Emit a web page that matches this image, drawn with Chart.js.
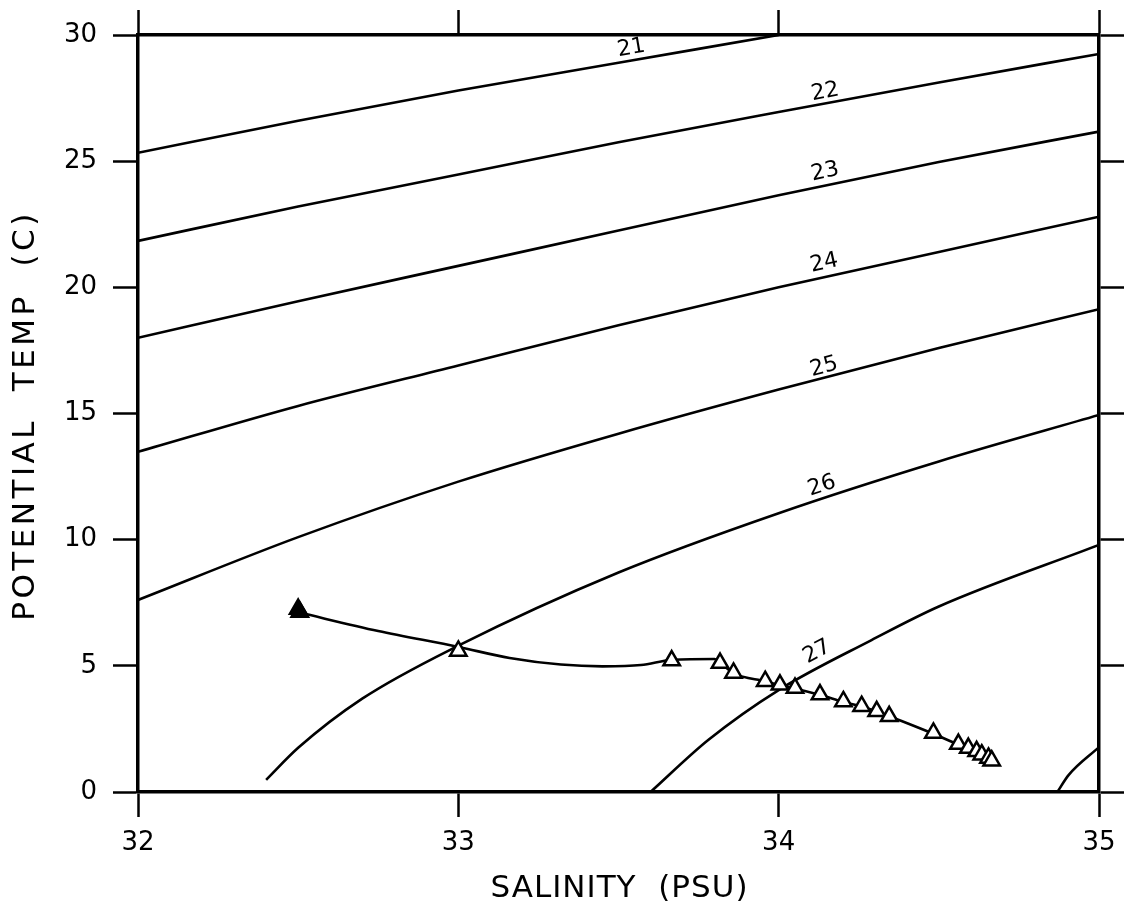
<!DOCTYPE html>
<html><head><meta charset="utf-8">
<script src="https://cdn.jsdelivr.net/npm/chart.js@4.4.1/dist/chart.umd.min.js"></script>
<style>html,body{margin:0;padding:0;background:#fff}#wrap{width:1128px;height:911px;position:relative}</style>
</head><body><div id="wrap"><canvas id="c"></canvas></div>
<script>
// ---- tick values / labels ----
const xTickValues = [32, 33, 34, 35];
const xTickLabels = ['32', '33', '34', '35'];
const yTickValues = [0, 5, 10, 15, 20, 25, 30];
const yTickLabels = ['0', '5', '10', '15', '20', '25', '30'];
const xTitle = 'SALINITY  (PSU)';
const yTitle = 'POTENTIAL  TEMP  (C)';

// ---- sigma-theta contours (salinity, potential temperature) ----
const sigma21S = [32.0, 32.5, 33.0, 33.5, 34.0];
const sigma21T = [25.33, 26.6, 27.8, 28.9, 30.0];
const sigma22S = [32.0, 32.5, 33.0, 33.5, 34.0, 34.5, 35.0];
const sigma22T = [21.84, 23.2, 24.47, 25.75, 26.95, 28.12, 29.25];
const sigma23S = [32.0, 32.5, 33.0, 33.5, 34.0, 34.5, 35.0];
const sigma23T = [18.0, 19.45, 20.85, 22.25, 23.65, 24.97, 26.17];
const sigma24S = [32.0, 32.5, 33.0, 33.5, 34.0, 34.5, 35.0];
const sigma24T = [13.48, 15.3, 16.9, 18.5, 20.0, 21.4, 22.8];
const sigma25S = [32.0, 32.5, 33.0, 33.5, 34.0, 34.5, 35.0];
const sigma25T = [7.61, 10.1, 12.3, 14.2, 15.95, 17.6, 19.13];
const sigma26S = [32.40, 32.50, 32.70, 33.0, 33.5, 34.0, 34.5, 35.0];
const sigma26T = [0.48, 1.75, 3.7, 5.8, 8.7, 11.05, 13.1, 14.94];
const sigma27S = [33.60, 33.78, 34.0, 34.29, 34.5, 35.0];
const sigma27T = [0.0, 2.06, 4.04, 6.02, 7.35, 9.79];
const sigma28S = [34.87, 34.905, 35.0];
const sigma28T = [0.0, 0.67, 1.78];

const contourLevels = ['21', '22', '23', '24', '25', '26', '27', '28'];
const contourS = [sigma21S, sigma22S, sigma23S, sigma24S, sigma25S, sigma26S, sigma27S, sigma28S];
const contourT = [sigma21T, sigma22T, sigma23T, sigma24T, sigma25T, sigma26T, sigma27T, sigma28T];

// contour label anchors (only 21..27 are labelled)
const labelText = ['21', '22', '23', '24', '25', '26', '27'];
const labelS = [33.54, 34.145, 34.145, 34.142, 34.142, 34.135, 34.12];
const labelT = [29.48, 27.74, 24.57, 20.96, 16.84, 12.13, 5.55];

// ---- station profile ----
const profileLineS = [32.50, 32.75, 33.00, 33.16, 33.32, 33.45, 33.57, 33.67, 33.80, 33.82, 33.86, 33.96, 34.00, 34.05, 34.13, 34.20, 34.26, 34.31, 34.35, 34.48, 34.56, 34.59, 34.62, 34.635, 34.655, 34.665];
const profileLineT = [7.12, 6.38, 5.75, 5.31, 5.05, 4.98, 5.03, 5.24, 5.27, 5.10, 4.70, 4.38, 4.24, 4.10, 3.84, 3.58, 3.38, 3.18, 2.98, 2.32, 1.88, 1.72, 1.58, 1.46, 1.32, 1.21];
const sampleS = [33.00, 33.666, 33.817, 33.859, 33.958, 34.004, 34.051, 34.129, 34.202, 34.259, 34.306, 34.345, 34.483, 34.561, 34.592, 34.618, 34.634, 34.655, 34.665];
const sampleT = [5.59, 5.21, 5.11, 4.72, 4.39, 4.25, 4.12, 3.86, 3.59, 3.40, 3.20, 3.00, 2.34, 1.90, 1.74, 1.61, 1.48, 1.35, 1.24];
const surfaceS = [32.50, 32.505];
const surfaceT = [7.25, 7.13];

const pts = (S, T) => S.map((s, i) => ({x: s, y: T[i]}));

const datasets = [];
datasets.push({label: 'surface', data: pts(surfaceS, surfaceT), showLine: false,
  pointStyle: 'triangle', pointRadius: 9.5, pointBorderWidth: 2.5,
  pointBackgroundColor: '#000', pointBorderColor: '#000', order: 0});
datasets.push({label: 'samples', data: pts(sampleS, sampleT), showLine: false,
  pointStyle: 'triangle', pointRadius: 9.5, pointBorderWidth: 2.5,
  pointBackgroundColor: '#fff', pointBorderColor: '#000', order: 0});
datasets.push({label: 'profile', data: pts(profileLineS, profileLineT), showLine: true,
  borderColor: '#000', borderWidth: 2.6, pointRadius: 0, cubicInterpolationMode: 'monotone', order: 1});
contourLevels.forEach((lvl, i) => {
  datasets.push({label: 'sigma ' + lvl, data: pts(contourS[i], contourT[i]), showLine: true,
    borderColor: '#000', borderWidth: 2.6, pointRadius: 0, cubicInterpolationMode: 'monotone', order: 2});
});

const contourLabelPlugin = {
  id: 'contourLabels',
  afterDatasetsDraw(chart) {
    const {ctx, scales: {x, y}} = chart;
    ctx.save();
    ctx.font = '22px "DejaVu Sans"';
    ctx.fillStyle = '#000';
    ctx.textAlign = 'center';
    ctx.textBaseline = 'middle';
    labelText.forEach((txt, i) => {
      const S = contourS[i], T = contourT[i];
      let k = 0;
      while (k < S.length - 2 && S[k + 1] < labelS[i]) k++;
      const dx = x.getPixelForValue(S[k + 1]) - x.getPixelForValue(S[k]);
      const dy = y.getPixelForValue(T[k + 1]) - y.getPixelForValue(T[k]);
      const ang = Math.atan2(dy, dx);
      ctx.save();
      ctx.translate(x.getPixelForValue(labelS[i]), y.getPixelForValue(labelT[i]));
      ctx.rotate(ang);
      ctx.fillText(txt, 0, 0);
      ctx.restore();
    });
    ctx.restore();
  }
};

// axis titles drawn with letter spacing to match the wide plotter font
const axisTitlePlugin = {
  id: 'axisTitles',
  afterDraw(chart) {
    const {ctx, chartArea: a} = chart;
    ctx.save();
    ctx.fillStyle = '#000';
    ctx.textAlign = 'center';
    ctx.textBaseline = 'middle';
    ctx.font = '31px "DejaVu Sans"';
    ctx.letterSpacing = '1px';
    ctx.fillText(xTitle, (a.left + a.right) / 2 + 1, 889);
    ctx.letterSpacing = '3.5px';
    ctx.translate(26, (a.top + a.bottom) / 2 + 2);
    ctx.rotate(-Math.PI / 2);
    ctx.fillText(yTitle, 0, 0);
    ctx.restore();
  }
};

const tickFont = {family: '"DejaVu Sans"', size: 26};
const gridOpts = {drawOnChartArea: false, drawTicks: true, tickLength: 25, tickWidth: 2.5, tickColor: '#000', color: '#000'};
const borderOpts = {display: true, width: 3.5, color: '#000'};

new Chart(document.getElementById('c'), {
  type: 'scatter',
  data: {datasets},
  plugins: [contourLabelPlugin, axisTitlePlugin],
  options: {
    responsive: true, maintainAspectRatio: false, animation: false,
    layout: {padding: 0},
    plugins: {legend: {display: false}, tooltip: {enabled: false}},
    events: [],
    scales: {
      x: {type: 'linear', position: 'bottom', min: 32, max: 35,
        afterBuildTicks: s => { s.ticks = xTickValues.map(v => ({value: v})); },
        ticks: {font: tickFont, color: '#000', padding: 11,
          callback: v => xTickLabels[xTickValues.indexOf(v)]},
        grid: gridOpts, border: borderOpts,
        afterFit: s => { s.height = 119; }},
      x2: {type: 'linear', position: 'top', min: 32, max: 35,
        afterBuildTicks: s => { s.ticks = xTickValues.map(v => ({value: v})); },
        ticks: {display: false}, grid: gridOpts, border: borderOpts,
        afterFit: s => { s.height = 35; }},
      y: {type: 'linear', position: 'left', min: 0, max: 30,
        afterBuildTicks: s => { s.ticks = yTickValues.map(v => ({value: v})); },
        ticks: {font: tickFont, color: '#000', padding: 16,
          callback: v => yTickLabels[yTickValues.indexOf(v)]},
        grid: gridOpts, border: borderOpts,
        afterFit: s => { s.width = 138; }},
      y2: {type: 'linear', position: 'right', min: 0, max: 30,
        afterBuildTicks: s => { s.ticks = yTickValues.map(v => ({value: v})); },
        ticks: {display: false}, grid: gridOpts, border: borderOpts,
        afterFit: s => { s.width = 29; }}
    }
  }
});
</script>
</body></html>
